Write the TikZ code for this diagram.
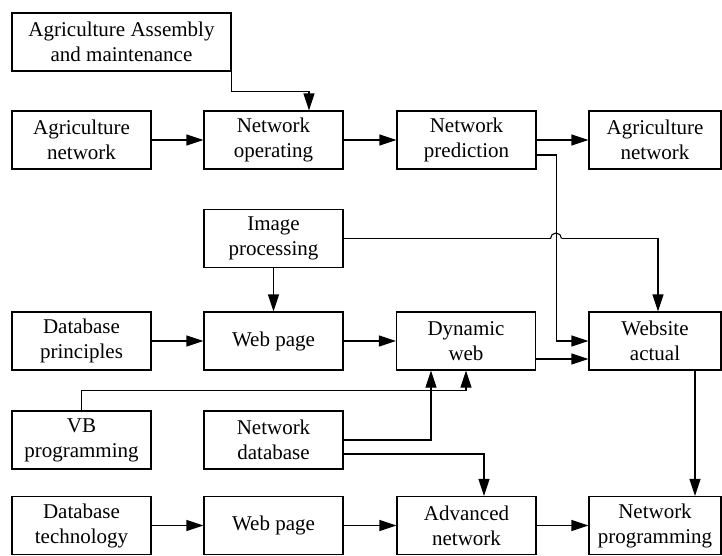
\documentclass[tikz,border=0pt]{standalone}
\usepackage{fontspec}
\setmainfont{Liberation Serif}
\usetikzlibrary{arrows.meta,calc}
\begin{document}
\begin{tikzpicture}[x=1pt,y=-1pt,
  box/.style={draw, line width=1.1pt, minimum width=139pt, minimum height=58pt, inner sep=0pt, align=center,
    font=\fontsize{21pt}{25pt}\selectfont},
  rbox/.style={box, minimum width=132pt},
  wbox/.style={box, minimum width=219pt},
  conn/.style={line width=1.1pt, -{Triangle[length=17pt,width=11pt]}},
  plain/.style={line width=1.1pt}]
\useasboundingbox (0,0) rectangle (722,555);
\node[wbox] (asm) at (121.5,42) {Agriculture Assembly\\and maintenance};
\node[box] (an1) at (81.5,140) {Agriculture\\network};
\node[box] (nop) at (273.5,140) {Network\\operating};
\node[box] (npr) at (466.5,140) {Network\\prediction};
\node[rbox] (an2) at (655,140) {Agriculture\\network};
\node[box] (img) at (273.5,238.5) {Image\\processing};
\node[box] (dbp) at (81.5,341) {Database\\principles};
\node[box] (wp1) at (273.5,341) {Web page};
\node[box] (dyn) at (466,341) {Dynamic\\web};
\node[rbox] (wsa) at (655,341) {Website\\actual};
\node[box] (vb) at (81.5,440) {VB\\programming};
\node[box] (ndb) at (273.5,440) {Network\\database};
\node[box] (dbt) at (81.5,525.5) {Database\\technology};
\node[box] (wp2) at (273.5,525.5) {Web page};
\node[box] (adv) at (466.5,525.5) {Advanced\\network};
\node[rbox] (npg) at (655,525.5) {Network\\programming};
\coordinate (jl) at (550.5,238.5);
\coordinate (jr) at (561.5,238.5);
% row 1
\draw[conn] (asm.south east) -- ++(0,20) -| ($(nop.north)+(35.5,0)$);
\draw[conn] (an1) -- (nop);
\draw[conn] (nop) -- (npr);
\draw[conn] (npr) -- (an2);
\draw[conn] ($(npr.east)+(0,15)$) -- ++(20,0) |- (wsa.west);
% image processing
\draw[conn] (img) -- (wp1);
\draw[plain] (img.east) -- (jl);
\draw[plain] (jl) arc[start angle=180, end angle=0, radius=5.5pt];
\draw[conn] (jr) -| ($(wsa.north)+(3,0)$);
% row 2
\draw[conn] (dbp) -- (wp1);
\draw[conn] (wp1) -- (dyn);
\draw[conn] ($(dyn.east)+(0,18)$) -- ($(wsa.west)+(0,18)$);
% VB and network database
\draw[conn] (vb.north) -- ++(0,-20) -| (dyn.south);
\draw[conn] (ndb.east) -| ($(dyn.south)+(-35,0)$);
\draw[conn] ($(ndb.east)+(0,14)$) -| ($(adv.north)+(17.5,0)$);
% row 3
\draw[conn] (dbt) -- (wp2);
\draw[conn] (wp2) -- (adv);
\draw[conn] (adv) -- (npg);
\draw[conn] ($(wsa.south)+(40,0)$) -- ($(npg.north)+(40,0)$);
\end{tikzpicture}
\end{document}
